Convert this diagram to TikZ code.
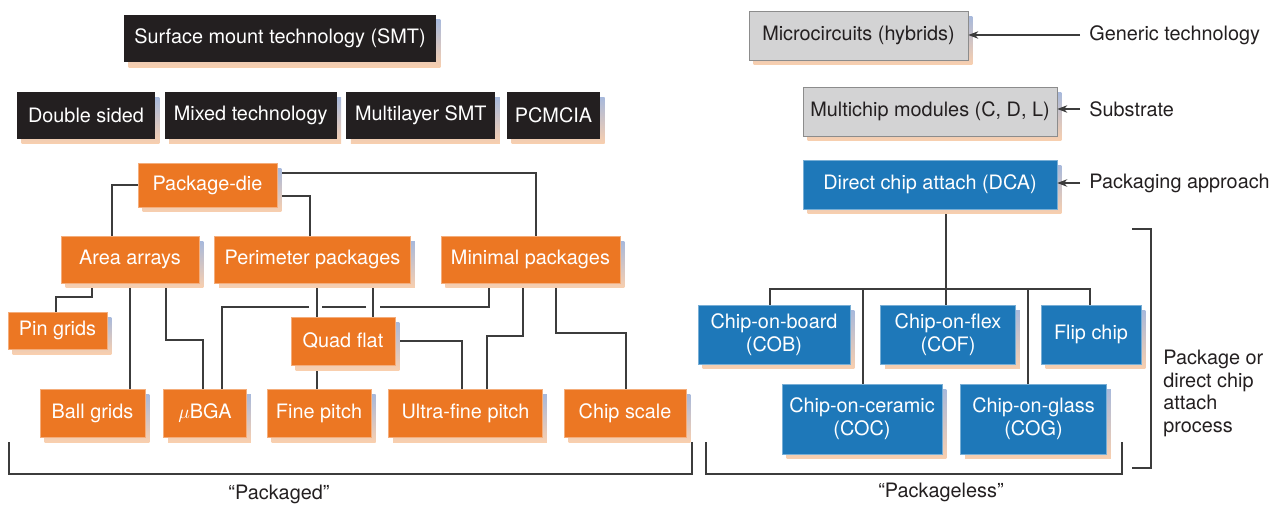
\documentclass[tikz,border=0pt]{standalone}
\usepackage{fontspec}
\setmainfont{TeX Gyre Heros}
\usetikzlibrary{positioning,shadows,backgrounds,arrows.meta}
\definecolor{orng}{RGB}{236,119,35}
\definecolor{blu}{RGB}{30,120,185}
\definecolor{blk}{RGB}{35,31,32}
\definecolor{gry}{RGB}{211,211,212}
\definecolor{shtop}{RGB}{167,185,220}
\definecolor{shbot}{RGB}{249,207,174}
\definecolor{wirecol}{RGB}{60,60,60}
\tikzset{box/.style={rectangle,inner sep=0pt,minimum height=0.96cm,align=center,
		font=\fontsize{11.3}{13}\selectfont,
		general shadow={shadow xshift=0.09cm,shadow yshift=-0.1cm,top color=shtop,bottom color=shbot}},
	 kbox/.style={box,fill=blk,text=white},
	 gbox/.style={box,fill=gry,draw=black!45,line width=0.4pt,text=blk},
	 obox/.style={box,fill=orng,draw=orng!60!white,line width=0.3pt,text=white},
	 bbox/.style={box,fill=blu,draw=blu!60!white,line width=0.3pt,text=white},
	 note/.style={inner sep=0pt,text=blk,align=left,font=\fontsize{11.3}{12.8}\selectfont},
	 wire/.style={draw=wirecol,line width=0.6pt},
	 tip/.style={wire,-{Stealth[length=0.2cm,width=0.15cm]}}
	 }
\begin{document}
\begin{tikzpicture}[x=0.02cm,y=-0.02cm] % SMT and DCA families
	\useasboundingbox (0,0) rectangle (1278,504);
	% surface mount
	\node[kbox,minimum width=6.24cm] (smt) at (280,38.5) {Surface mount technology (SMT)};
	\node[kbox,minimum width=2.76cm,minimum height=0.94cm] (ds) at (86,115.5) {Double sided};
	\node[kbox,minimum width=3.44cm,minimum height=0.94cm] (mt) [right=0.18cm of ds] {Mixed technology};
	\node[kbox,minimum width=2.98cm,minimum height=0.94cm] (ml) [right=0.18cm of mt] {Multilayer SMT};
	\node[kbox,minimum width=1.86cm,minimum height=0.94cm] (pc) [right=0.22cm of ml] {PCMCIA};
	% packaged
	\node[obox,minimum width=2.78cm,minimum height=0.88cm] (die) at (207.5,185) {Package-die};
	\node[obox,minimum width=2.76cm,minimum height=0.94cm] (aa) at (130,259.5) {Area arrays};
	\node[obox,minimum width=3.92cm,minimum height=0.94cm] (pp) [right=0.3cm of aa] {Perimeter packages};
	\node[obox,minimum width=3.58cm,minimum height=0.94cm] (mp) [right=0.6cm of pp] {Minimal packages};
	\node[obox,minimum width=1.98cm,minimum height=0.74cm] (pg) at (57.5,330.5) {Pin grids};
	\node[obox,minimum width=2.08cm] (qf) at (343,341) {Quad flat};
	\node[obox,minimum width=2.10cm] (bg) at (92.5,413) {Ball grids};
	\node[obox,minimum width=1.66cm] (ubga) [right=0.36cm of bg] {$\mu$BGA};
	\node[obox,minimum width=2.08cm] (fp) [right=0.40cm of ubga] {Fine pitch};
	\node[obox,minimum width=3.08cm] (uf) [right=0.34cm of fp] {Ultra-fine pitch};
	\node[obox,minimum width=2.44cm] (cs) [right=0.42cm of uf] {Chip scale};
	% packageless
	\node[gbox,minimum width=4.38cm,minimum height=0.98cm] (mc) at (858.5,35.5) {Microcircuits (hybrids)};
	\node[gbox,minimum width=5.08cm,minimum height=0.98cm] (mcm) at (930,111.5) {Multichip modules (C, D, L)};
	\node[bbox,minimum width=5.08cm,minimum height=0.98cm] (dca) at (930,184.5) {Direct chip attach (DCA)};
	\node[bbox,minimum width=3.04cm,minimum height=1.18cm] (cob) at (774,334.5) {Chip-on-board\\(COB)};
	\node[bbox,minimum width=2.70cm,minimum height=1.18cm] (cof) [right=0.6cm of cob] {Chip-on-flex\\(COF)};
	\node[bbox,minimum width=2.00cm,minimum height=1.18cm] (fc) [right=0.5cm of cof] {Flip chip};
	\node[bbox,minimum width=3.20cm,minimum height=1.40cm] (coc) at (862,419) {Chip-on-ceramic\\(COC)};
	\node[bbox,minimum width=2.92cm,minimum height=1.40cm] (cog) [right=0.36cm of coc] {Chip-on-glass\\(COG)};
	% side notes
	\node[note,inner xsep=0.18cm,anchor=west] (gt) at (1080,35) {Generic technology};
	\node[note,inner xsep=0.18cm,anchor=west] (sub) at (1080,109) {Substrate};
	\node[note,inner xsep=0.18cm,anchor=west] (pa) at (1080,183) {Packaging approach};
	\node[note,anchor=north west] (proc) at (1163,350) {Package or\\direct chip\\attach\\process};
	\node[note] (pkd) at (279,494) {“Packaged”};
	\node[note] (pkl) at (941,492) {“Packageless”};
	\draw[tip] (gt.west) -- (gt.west -| mc.east);
	\draw[tip] (sub.west) -- (sub.west -| mcm.east);
	\draw[tip] (pa.west) -- (pa.west -| dca.east);
	% brackets
	\draw[wire] (9,442) |- (692,474) -- (692,442);
	\draw[wire] (706,442) |- (1122,474) -- (1122,442);
	\draw[wire] (1132,229) -| (1151,468) -- (1132,468);
	\begin{scope}[on background layer]
	\draw[wire] (die.west) -| (aa.north -| 112,0);
	\draw[wire] (die.east |- 0,196) -| (pp.north -| 310,0);
	\draw[wire] (die.east |- 0,173) -| (mp.north -| 536,0);
	\draw[wire] (aa.south -| 92,0) -- (92,297) -| (pg.north -| 56,0);
	\draw[wire] (aa.south -| 130,0) -- (bg.north -| 130,0);
	\draw[wire] (aa.south -| 166,0) -- (166,340) -| (ubga.north -| 203,0);
	\draw[wire] (pp.south -| 317,0) -- (qf.north -| 317,0);
	\draw[wire] (pp.south -| 373,0) -- (qf.north -| 373,0);
	\draw[wire] (mp.south -| 489,0) |- (380,307);
	\draw[wire] (366,307) -- (322,307);
	\draw[wire] (309,307) -| (ubga.north -| 222,0);
	\draw[wire] (mp.south -| 523,0) -- (523,336) -| (uf.north -| 487,0);
	\draw[wire] (mp.south -| 556,0) -- (556,333) -| (cs.north -| 626,0);
	\draw[wire] (qf.east) -| (uf.north -| 462,0);
	\draw[wire] (qf.south -| 317,0) -- (fp.north -| 317,0);
	% DCA tree
	\coordinate (bus) at (946,289);
	\draw[wire] (dca.south -| bus) -- (bus);
	\draw[wire] (cob.north -| 770,0) |- (bus) -| (fc.north -| 1090,0);
	\draw[wire] (bus) -- (cof.north -| bus);
	\draw[wire] (bus -| 863,0) -- (coc.north -| 863,0);
	\draw[wire] (bus -| 1028,0) -- (cog.north -| 1028,0);
	\end{scope}
\end{tikzpicture}
\end{document}
